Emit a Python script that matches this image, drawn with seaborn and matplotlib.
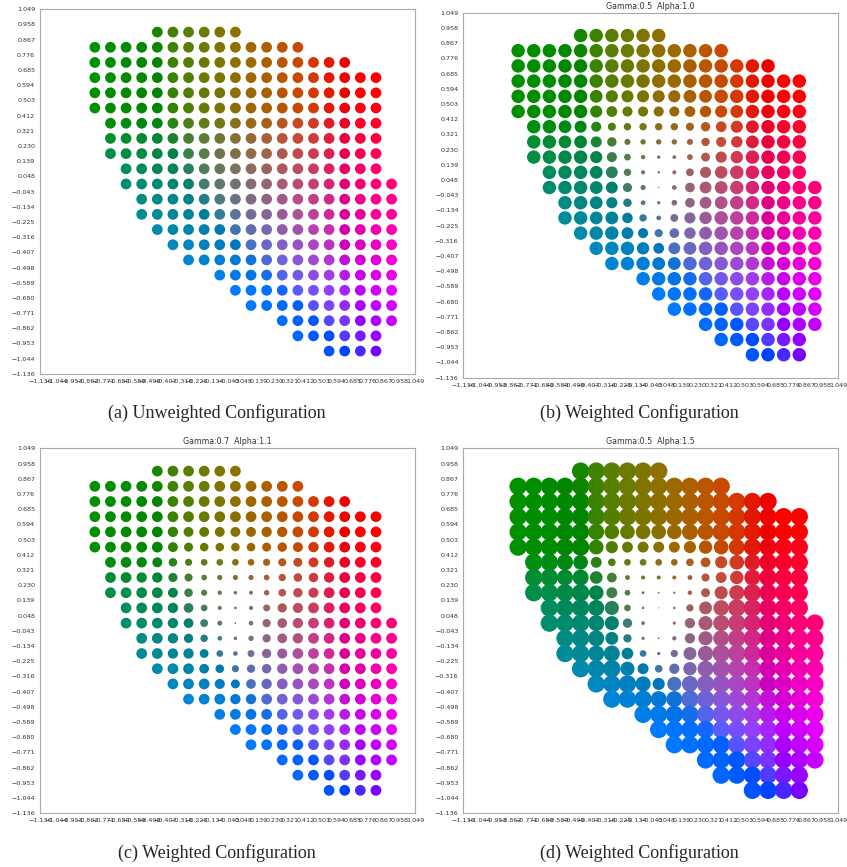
import numpy as np
import pandas as pd
import matplotlib
matplotlib.use("Agg")
import matplotlib.pyplot as plt
from matplotlib.colors import PowerNorm
import seaborn as sns

# tick labels (same list on x and y)
tick_labels = ["-1.136", "-1.044", "-0.953", "-0.862", "-0.771", "-0.680", "-0.589",
               "-0.498", "-0.407", "-0.316", "-0.225", "-0.134", "-0.043", "0.048",
               "0.139", "0.230", "0.321", "0.412", "0.503", "0.594", "0.685", "0.776",
               "0.867", "0.958", "1.049"]

# occupied grid cells: for each row (counted from the top, first row = 1)
# the first and last occupied column (counted from the left)
first_row = 1
row_first_col = [7, 3, 3, 3, 3, 3, 4, 4, 4, 5, 5, 6, 6, 7, 8, 9, 11, 12, 13, 15, 16, 18]
row_last_col = [12, 16, 19, 21, 21, 21, 21, 21, 21, 21, 22, 22, 22, 22, 22, 22, 22, 22, 22, 22, 21, 21]

# point weights near the grey centre (row: (first col, values)), all other points = 1
weight_rows = {
    5: (8, [0.95, 0.9, 0.9, 0.9, 0.9, 0.9, 0.95, 0.95]),
    6: (8, [0.9, 0.8, 0.75, 0.75, 0.75, 0.75, 0.8, 0.85, 0.9, 0.95]),
    7: (6, [0.95, 0.9, 0.75, 0.6, 0.55, 0.55, 0.55, 0.55, 0.6, 0.7, 0.8, 0.9, 0.95]),
    8: (6, [0.95, 0.95, 0.82, 0.7, 0.45, 0.4, 0.4, 0.4, 0.45, 0.62, 0.75, 0.85, 0.95]),
    9: (8, [0.9, 0.75, 0.5, 0.32, 0.25, 0.28, 0.43, 0.66, 0.84, 0.92]),
    10: (8, [0.95, 0.88, 0.55, 0.3, 0.18, 0.3, 0.58, 0.83, 0.93]),
    11: (8, [0.95, 0.88, 0.68, 0.38, 0.1, 0.35, 0.72, 0.88, 0.95]),
    12: (8, [0.95, 0.83, 0.63, 0.35, 0.25, 0.42, 0.72, 0.88, 0.95]),
    13: (8, [0.95, 0.95, 0.78, 0.55, 0.35, 0.58, 0.83, 0.92]),
    14: (10, [0.88, 0.75, 0.6, 0.72, 0.85, 0.95]),
    15: (11, [0.92, 0.8, 0.88, 0.95]),
    16: (12, [0.95, 0.95]),
}

# colour of each point: CIELAB at fixed lightness, a*/b* taken from the position
lightness = 48
ab_scale = 128

panels = [
    # (title, caption, max marker area, size norm exponent)
    (None, "(a) Unweighted Configuration", 60, None),
    ("Gamma:0.5  Alpha:1.0", "(b) Weighted Configuration", 94, 2.0),
    ("Gamma:0.7  Alpha:1.1", "(c) Weighted Configuration", 60, 1.6),
    ("Gamma:0.5  Alpha:1.5", "(d) Weighted Configuration", 156, 3.2),
]


def lab_to_rgb(L, a, b):
    fy = (L + 16) / 116
    fx = fy + a / 500
    fz = fy - b / 200
    d = 6 / 29

    def finv(t):
        return np.where(t > d, t ** 3, 3 * d ** 2 * (t - 4 / 29))

    xyz = np.stack([0.95047 * finv(fx), finv(fy) * np.ones_like(fx), 1.08883 * finv(fz)], axis=1)
    m = np.array([[3.2406, -1.5372, -0.4986],
                  [-0.9689, 1.8758, 0.0415],
                  [0.0557, -0.2040, 1.0570]])
    lin = np.clip(xyz @ m.T, 0, None)
    srgb = np.where(lin <= 0.0031308, 12.92 * lin, 1.055 * lin ** (1 / 2.4) - 0.055)
    return np.clip(srgb, 0, 1)


ticks = np.array([float(t) for t in tick_labels])
tick_text = [t.replace("-", "\u2212") for t in tick_labels]
centres_x = (ticks[:-1] + ticks[1:]) / 2
ticks_down = ticks[::-1]
centres_y = (ticks_down[:-1] + ticks_down[1:]) / 2

rows = []
for k, (c0, c1) in enumerate(zip(row_first_col, row_last_col)):
    r = first_row + k
    for c in range(c0, c1 + 1):
        w = 1.0
        if r in weight_rows:
            start, vals = weight_rows[r]
            if start <= c < start + len(vals):
                w = vals[c - start]
        rows.append({"x": centres_x[c], "y": centres_y[r], "weight": w})
df = pd.DataFrame(rows)
colors = lab_to_rgb(lightness, df["x"].values * ab_scale, df["y"].values * ab_scale)

sns.set_style("white")
plt.rcParams["font.family"] = ["DejaVu Sans"]

fig = plt.figure(figsize=(8.47, 8.67), dpi=100)
W, H = 847, 867
boxes = [(40, 9.3, 375, 364.7), (463.3, 12.7, 375, 365),
         (40, 448.3, 375, 365), (463.3, 448.3, 375, 365)]
cap_pos = [(217, 413), (639, 413), (217, 853), (639, 853)]

for (title, caption, smax, gam), (l, t, w, h), (cx, cy) in zip(panels, boxes, cap_pos):
    ax = fig.add_axes([l / W, 1 - (t + h) / H, w / W, h / H])
    if gam is None:
        sns.scatterplot(data=df, x="x", y="y", c=colors, s=smax,
                        linewidth=0, edgecolor="none", legend=False, ax=ax)
    else:
        sns.scatterplot(data=df, x="x", y="y", c=colors, size="weight",
                        sizes=(0, smax), size_norm=PowerNorm(gam, vmin=0, vmax=1),
                        linewidth=0, edgecolor="none", legend=False, ax=ax)
    ax.set_xlim(ticks[0], ticks[-1])
    ax.set_ylim(ticks[0], ticks[-1])
    ax.set_xticks(ticks)
    ax.set_yticks(ticks)
    ax.set_xticklabels(tick_text)
    ax.set_yticklabels(tick_text)
    ax.set_xlabel("")
    ax.set_ylabel("")
    ax.tick_params(labelsize=4.6, length=2, width=0.5, color="#666666",
                   labelcolor="#333333", pad=1.5)
    for sp in ax.spines.values():
        sp.set_color("#aaaaaa")
        sp.set_linewidth(0.8)
    if title:
        ax.set_title(title, fontsize=5.7, color="#333333", pad=3)
    fig.text(cx / W, 1 - cy / H, caption, ha="center", va="center",
             fontsize=13, family=["Liberation Serif", "DejaVu Serif"])

fig.savefig("out.png", dpi=100)
